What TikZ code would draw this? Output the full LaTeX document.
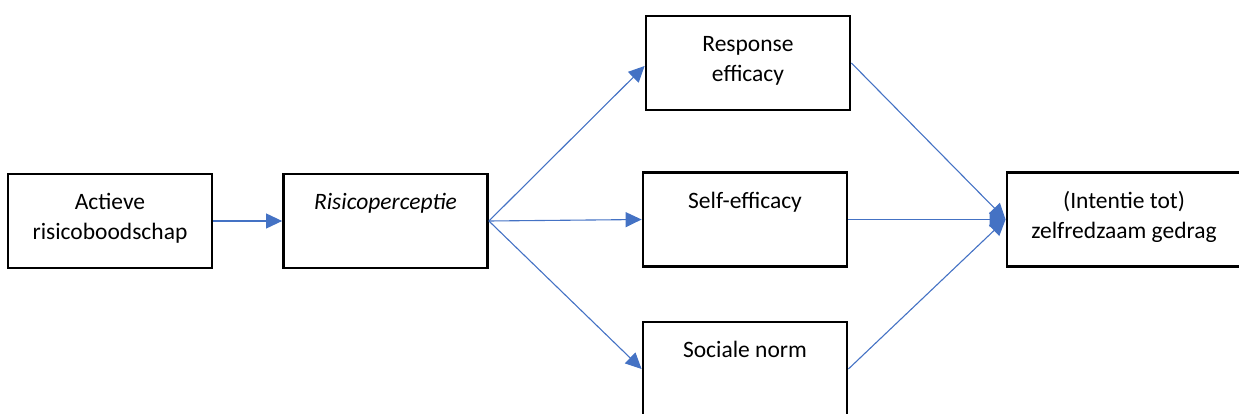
\documentclass[tikz,border=0pt]{standalone}
\usepackage{fontspec}
\setmainfont{Carlito}
\usetikzlibrary{arrows.meta}
\definecolor{arrowblue}{HTML}{4472C4}
\begin{document}
\begin{tikzpicture}[x=1pt,y=-1pt,
  box/.style={draw=black, line width=2.8pt, fill=white, inner sep=0pt,
    minimum height=94pt, align=center,
    font=\fontsize{23.5pt}{30pt}\selectfont},
  conn/.style={draw=arrowblue, line width=1.1pt,
    -{Triangle[length=16pt,width=15pt]}}]
\useasboundingbox (0,0) rectangle (1239,414);
\node[box, minimum width=204pt] (b1) at (110,221) {Actieve\\risicoboodschap\strut};
\node[box, minimum width=204pt] (b2) at (385.5,221) {\textit{Risicoperceptie}\\\strut};
\node[box, minimum width=204pt] (b3) at (748,63) {Response\\efficacy\strut};
\node[box, minimum width=204pt] (b4) at (745,219.5) {Self-efficacy\\\strut};
\node[box, minimum width=204pt] (b5) at (745,369) {Sociale norm\\\strut};
\node[box, minimum width=234pt] (b6) at (1124,219.5) {(Intentie tot)\\zelfredzaam gedrag\strut};
\draw[conn] (b1.east) -- (b2.west);
\draw[conn] (b2.east) -- ([yshift=-3pt]b3.west);
\draw[conn] (b2.east) -- (b4.west);
\draw[conn] (b2.east) -- (b5.west);
\draw[conn] (b3.east) -- (b6.west);
\draw[conn] (b4.east) -- (b6.west);
\draw[conn] (b5.east) -- (b6.west);
\end{tikzpicture}
\end{document}
